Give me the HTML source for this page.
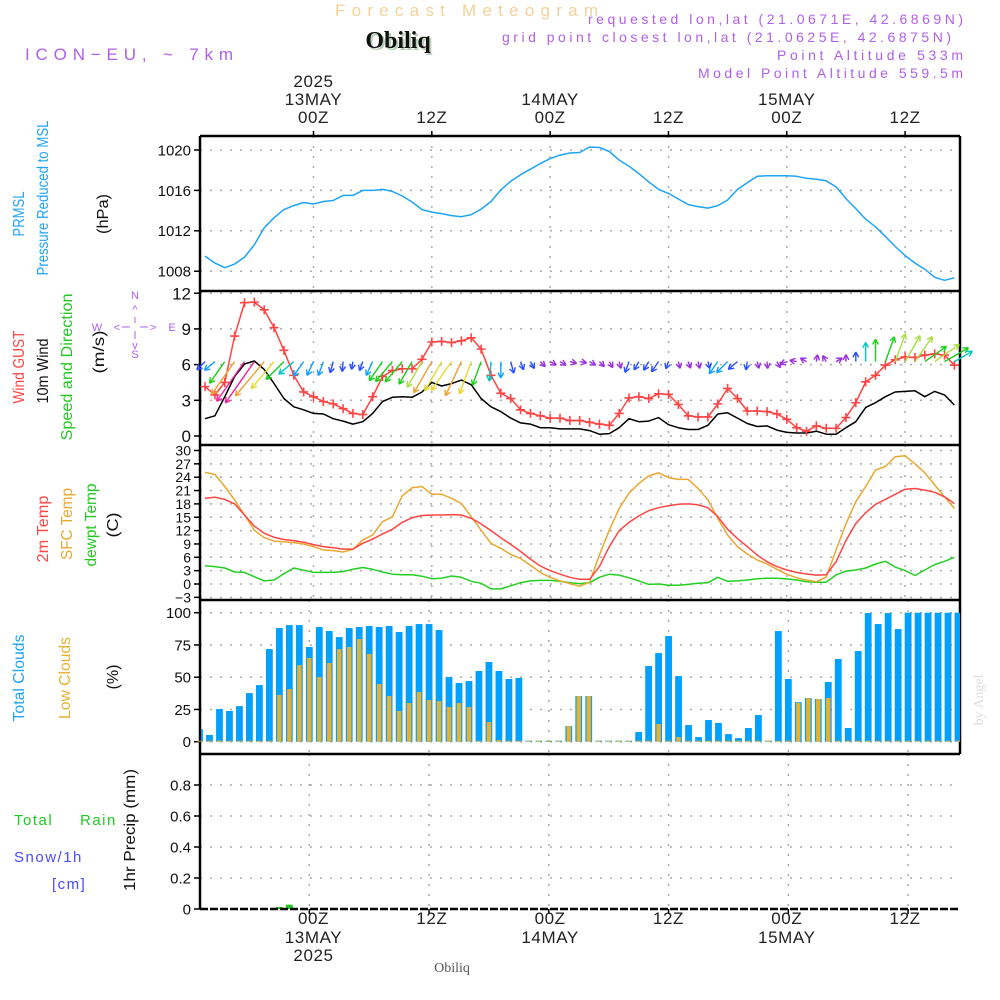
<!DOCTYPE html>
<html><head><meta charset="utf-8">
<style>
html,body{margin:0;padding:0;background:#fff;}
svg{display:block;font-family:"Liberation Sans",sans-serif;}
</style></head>
<body>
<svg id="chart" width="1000" height="1000" viewBox="0 0 1000 1000" xmlns="http://www.w3.org/2000/svg">
<!-- header -->
<text x="335" y="16" font-size="17" fill="#f2d29a" textLength="263" lengthAdjust="spacing">Forecast Meteogram</text>
<text x="400" y="50" font-size="24" font-weight="bold" fill="#b8ccb8" text-anchor="middle" font-family="Liberation Serif,serif">Obiliq</text>
<text x="398" y="48" font-size="24" font-weight="bold" fill="#111" text-anchor="middle" font-family="Liberation Serif,serif">Obiliq</text>
<text x="25" y="60" font-size="17" fill="#b060e8" textLength="208" lengthAdjust="spacing">ICON−EU, ~ 7km</text>
<g font-size="14" fill="#b060e8">
<text x="588" y="24" textLength="375" lengthAdjust="spacing">requested lon,lat (21.0671E, 42.6869N)</text>
<text x="502" y="42" textLength="449" lengthAdjust="spacing">grid point closest lon,lat (21.0625E, 42.6875N)</text>
<text x="777" y="60" textLength="186" lengthAdjust="spacing">Point Altitude 533m</text>
<text x="698" y="78" textLength="265" lengthAdjust="spacing">Model Point Altitude 559.5m</text>
</g>
<text transform="translate(983,700) rotate(-90)" font-size="14" fill="#ddd" text-anchor="middle" font-family="Liberation Serif,serif">by Angel</text>
<g id="layer"></g>
</svg>
<script>
// ---- data (hours from 00Z 13 May, -11 .. 65) ----
const hourStart = -11;
const pressure = [1009.5,1008.8,1008.35,1008.7,1009.4,1010.6,1012.3,1013.3,1014.1,1014.5,1014.8,1014.65,1014.9,1015.0,1015.5,1015.5,1016.0,1016.0,1016.1,1015.9,1015.45,1014.85,1014.1,1013.85,1013.7,1013.5,1013.4,1013.6,1014.15,1014.9,1016.05,1016.9,1017.55,1018.1,1018.65,1019.15,1019.5,1019.7,1019.75,1020.3,1020.25,1019.85,1019.0,1018.4,1017.65,1016.85,1016.1,1015.7,1015.15,1014.6,1014.4,1014.25,1014.5,1015.05,1016.1,1016.75,1017.4,1017.45,1017.45,1017.45,1017.4,1017.2,1017.1,1016.95,1016.35,1015.2,1014.2,1013.15,1012.4,1011.45,1010.45,1009.55,1008.8,1008.2,1007.4,1007.1,1007.35];
const gust = [4.15,3.45,4.5,8.4,11.2,11.25,10.6,9.1,7.2,5.1,3.7,3.3,2.9,2.7,2.3,1.9,1.8,3.3,5.0,5.5,5.65,5.65,6.45,7.9,7.95,7.85,8.0,8.25,7.3,5.1,3.6,3.15,2.2,1.9,1.7,1.5,1.5,1.3,1.3,1.15,1.0,0.9,1.9,3.2,3.3,3.15,3.55,3.5,2.65,1.7,1.6,1.6,2.7,4.0,3.15,2.1,2.1,2.05,1.85,1.4,0.7,0.4,0.85,0.65,0.65,1.55,2.8,4.55,5.1,5.95,6.4,6.65,6.6,6.8,6.9,6.8,5.95];
const wind = [1.45,1.7,3.3,5.0,6.05,6.3,5.6,4.4,3.15,2.45,2.2,1.9,1.85,1.45,1.25,1.0,1.2,1.9,2.9,3.25,3.3,3.25,3.7,4.5,4.2,4.4,4.7,4.3,3.15,2.45,2.05,1.5,1.1,1.0,0.7,0.7,0.6,0.6,0.6,0.45,0.15,0.2,0.7,1.45,1.2,1.25,1.55,0.95,0.7,0.55,0.55,0.9,1.85,1.95,1.5,1.05,0.8,0.85,0.5,0.3,0.25,0.25,0.4,0.15,0.15,0.7,1.2,2.4,2.8,3.3,3.7,3.75,3.8,3.3,3.75,3.45,2.6];
const windDir = [225,230,215,215,215,215,220,220,225,230,215,205,200,195,185,190,200,205,215,220,220,210,210,210,210,215,205,200,200,185,180,165,160,150,135,120,120,105,100,120,135,150,165,200,210,210,215,200,165,160,165,165,215,225,230,190,165,175,150,250,280,300,10,330,60,0,0,0,0,20,20,30,35,55,55,60,60];
const temp2m = [19.25,19.5,19.0,18.0,15.5,13.0,11.4,10.5,10.0,9.75,9.4,8.85,8.4,8.15,7.85,7.85,9.15,10.1,11.25,12.3,13.85,14.9,15.4,15.5,15.5,15.6,15.5,14.75,13.5,12.0,10.4,8.9,7.3,5.6,4.05,3.0,2.2,1.5,1.05,1.05,3.9,8.4,12.0,13.85,15.3,16.5,17.15,17.6,17.9,18.0,17.8,17.15,15.15,12.3,10.2,8.4,6.5,5.0,3.9,3.15,2.6,2.25,2.0,2.1,5.0,9.75,13.6,16.0,17.9,19.0,20.15,21.3,21.45,21.1,20.6,19.6,18.1];
const tempSfc = [25.1,24.6,21.9,18.9,15.5,12.1,10.4,9.65,9.5,9.3,9.0,8.4,7.65,7.5,7.2,7.8,9.9,11.0,14.0,15.1,19.8,21.65,21.9,20.15,20.15,19.25,18.1,15.1,12.1,9.15,8.0,6.65,5.7,4.25,2.6,1.5,0.7,0.1,-0.5,0.4,6.5,12.1,17.0,20.4,22.6,24.3,25.0,23.9,23.5,23.5,21.5,18.9,14.75,11.0,8.4,6.75,5.4,4.5,3.3,2.2,1.4,0.9,0.5,1.6,7.65,13.5,18.5,21.9,25.6,26.4,28.6,28.8,27.0,25.0,22.25,19.6,17.0];
const dewpt = [4.1,3.9,3.6,2.7,2.6,1.65,0.7,0.9,2.3,3.6,3.1,2.6,2.6,2.6,2.8,3.3,3.7,3.3,2.7,2.2,2.1,2.1,1.75,1.2,1.3,1.8,1.5,0.6,0.15,-1.1,-1.1,-0.4,0.3,0.7,0.8,0.8,0.6,0.3,0.1,0.3,1.5,2.2,2.0,1.4,0.7,-0.1,0.0,-0.3,-0.3,-0.1,0.15,0.3,1.5,0.6,0.7,0.9,1.2,1.3,1.3,1.15,0.9,0.5,0.4,0.4,2.05,2.9,3.15,3.6,4.5,5.1,3.8,3.0,1.9,3.15,4.35,5.1,6.0];
const totalCloud = [9.8,5.2,25.3,23.8,27.6,37.7,43.9,71.8,88.1,90.4,90.4,73.4,88.9,85.8,81.1,88.1,88.9,89.7,88.9,89.7,85.0,89.7,91.2,91.2,86.6,50.1,45.5,47.0,54.8,61.8,54.8,48.6,49.4,0,0,0,0,12.1,35.4,35.4,0,0,0,0,7.5,58.7,68.7,81.9,50.9,12.9,3.6,16.8,14.5,5.9,2.8,10.6,20.7,0,85.8,48.6,30.7,33.9,33.1,46.3,64.1,10.6,70.3,99.7,91.2,99.7,87.3,100,100,100,100,100,100];
const lowCloud = [0,0,1,0,0,0,0,0.5,36.2,40.8,59.4,64.9,50.1,61.0,71.8,73.4,79.6,68.0,44.7,35.4,23.8,30.0,38.5,32.3,31.5,26.9,30.0,26.9,0,15.2,1.3,0,0,0,0,0,0,12.1,35.4,35.4,0,0,0,0,0,0,13.7,0,3.6,0,0,0,0,0,0,0,0,0,0,0,30.2,33.9,33.1,33.9,0,0,0,0,0,0,0,0,0,0,0,0,0];
const precip = [0,0,0,0,0,0,0,0,0.008,0.028,0,0,0,0,0,0,0,0,0,0,0,0,0,0,0,0,0,0,0,0,0,0,0,0,0,0,0,0,0,0,0,0,0,0,0,0,0,0,0,0,0,0,0,0,0,0,0,0,0,0,0,0,0,0,0,0,0,0,0,0,0,0,0,0,0,0,0];
const pressTicks = [1008,1012,1016,1020];
const windTicks = [0,3,6,9,12];
const tempTicks = [-3,0,3,6,9,12,15,18,21,24,27,30];
const cloudTicks = [0,25,50,75,100];
const precipTicks = [0,0.2,0.4,0.6,0.8];
const timeTicks = [0,12,24,36,48,60];
const topLabels = [["2025","13MAY","00Z"],["","","12Z"],["","14MAY","00Z"],["","","12Z"],["","15MAY","00Z"],["","","12Z"]];
const bottomLabels = [["00Z","13MAY","2025"],["12Z","",""],["00Z","14MAY",""],["12Z","",""],["00Z","15MAY",""],["12Z","",""]];

// ---- axes ----
const L = 200, R = 960;
const xMain = t => 313.5 + 9.86 * t;
const xBar = t => 309.3 + 9.98 * t;
const yPress = v => 150 + (1020 - v) * 10.1;
const yWind = v => 436 - v * 11.9;
const yTemp = v => 584 - v * 4.45;
const yCloud = v => 741.7 - v * 1.29;
const yPrecip = v => 909 - v * 155;

const NS = 'http://www.w3.org/2000/svg';
const layer = document.getElementById('layer');
function mk(tag, attrs, parent) {
  const e = document.createElementNS(NS, tag);
  for (const k in attrs) e.setAttribute(k, attrs[k]);
  (parent || layer).appendChild(e);
  return e;
}
function txt(s, x, y, attrs, parent) {
  const e = mk('text', Object.assign({x: x, y: y}, attrs), parent);
  e.textContent = s;
  return e;
}
const hours = pressure.map((_, i) => hourStart + i);

function panel(name, top, bottom, ticks, yf, xf, fmt, fs, border) {
  const g = mk('g', {});
  
  
  ticks.forEach(v => {
    const y = yf(v);
    if (y > top + 2 && y < bottom - 2) {
      const gl = mk('line', {x1: L, x2: R, y1: y, y2: y, stroke: '#aaa', 'stroke-width': 1.5, 'stroke-dasharray': '2 8'}, g);
      
      
    }
    mk('line', {x1: L - 6, x2: L, y1: y, y2: y, stroke: '#000', 'stroke-width': 1.5}, g);
    const t = txt(fmt(v), L - 9, y + fs * 0.36, {'font-size': fs, 'text-anchor': 'end', fill: '#111'}, g);
    
    
  });
  timeTicks.forEach(h => {
    const x = xf(h);
    const vl = mk('line', {x1: x, x2: x, y1: top, y2: bottom, stroke: '#aaa', 'stroke-width': 1.5, 'stroke-dasharray': '2 8'}, g);
    
    
  });
  mk('line', {x1: L, x2: L, y1: top, y2: bottom, stroke: '#000', 'stroke-width': 2.5}, g);
  if (border) mk('line', {x1: R, x2: R, y1: top, y2: bottom, stroke: '#000', 'stroke-width': 2.5}, g);
  return g;
}
function polyline(name, arr, xf, yf, color, parent) {
  const pts = arr.map((v, i) => xf(hours[i]).toFixed(1) + ',' + yf(v).toFixed(1)).join(' ');
  const p = mk('polyline', {points: pts, fill: 'none', stroke: color, 'stroke-width': 1.5, 'stroke-linejoin': 'round'}, parent);
  
  
  return p;
}

// panels
const gP = panel('pressure', 136, 291, pressTicks, yPress, xMain, v => String(v), 15, true);
const gW = panel('wind', 291, 445, windTicks, yWind, xMain, v => String(v), 17, true);
const gT = panel('temperature', 445, 600, tempTicks, yTemp, xMain, v => String(v).replace('-', '−'), 14, true);
const gC = panel('clouds', 600, 754, cloudTicks, yCloud, xBar, v => String(v), 15, true);
const gR = panel('precip', 754, 909, precipTicks, yPrecip, xBar, v => v === 0 ? '0' : v.toFixed(1), 15, false);

// panel separators
[136, 291, 445, 600, 754].forEach(y => {
  const s = mk('line', {x1: L, x2: R, y1: y, y2: y, stroke: '#000', 'stroke-width': 2.5});
  
  
});
const ba = mk('line', {x1: L, x2: R, y1: 909, y2: 909, stroke: '#000', 'stroke-width': 2.5, 'stroke-dasharray': '8 2'});



// time labels
timeTicks.forEach((h, i) => {
  const x = xMain(h);
  mk('line', {x1: x, x2: x, y1: 131, y2: 136, stroke: '#000', 'stroke-width': 1.5});
  const lines = topLabels[i];
  [87, 105, 123].forEach((y, k) => {
    if (lines[k]) {
      const t = txt(lines[k], x, y, {'font-size': 17, 'text-anchor': 'middle', fill: '#222', 'letter-spacing': 0.6});
      
      
    }
  });
  const xb = xBar(h);
  mk('line', {x1: xb, x2: xb, y1: 909, y2: 914, stroke: '#000', 'stroke-width': 1.5});
  const bl = bottomLabels[i];
  [924, 943, 961].forEach((y, k) => {
    if (bl[k]) {
      const t = txt(bl[k], xMain(h), y, {'font-size': 17, 'text-anchor': 'middle', fill: '#222', 'letter-spacing': 0.6});
      
      
    }
  });
});
const fl = txt('Obiliq', 452, 972, {'font-size': 14, 'text-anchor': 'middle', fill: '#555', 'font-family': 'Liberation Serif,serif'});



// pressure
polyline('pressure-line', pressure, xMain, yPress, '#1ea4f4', gP);

// wind arrows
function speedColor(s) {
  if (s < 0.9) return '#9a30e0';
  if (s < 1.6) return '#2a50ff';
  if (s < 2.3) return '#10a0ff';
  if (s < 2.7) return '#00c8c0';
  if (s < 3.5) return '#18d018';
  if (s < 4.0) return '#a8e040';
  if (s < 4.45) return '#e8d830';
  if (s < 5.8) return '#f0a030';
  return '#f0209a';
}
const gA = mk('g', {});


windDir.forEach((d, i) => {
  const s = wind[i];
  const len = Math.max(7, s * 8);
  const th = d * Math.PI / 180;
  const x0 = xMain(hours[i]), y0 = yWind(6) - 3;
  const x1 = x0 + Math.sin(th) * len, y1 = y0 - Math.cos(th) * len;
  const c = speedColor(s);
  const a = mk('g', {stroke: c, 'stroke-width': 1.4, fill: 'none'}, gA);
  
  
  mk('line', {x1: x0, y1: y0, x2: x1, y2: y1}, a);
  [-0.5, 0.5].forEach(o => {
    const b = th + Math.PI + o;
    mk('line', {x1: x1, y1: y1, x2: x1 + Math.sin(b) * 6, y2: y1 - Math.cos(b) * 6}, a);
  });
});

// wind lines
polyline('wind-speed-line', wind, xMain, yWind, '#000', gW);
polyline('wind-gust-line', gust, xMain, yWind, '#ff4444', gW);
gust.forEach((v, i) => {
  const x = xMain(hours[i]), y = yWind(v);
  const m = mk('path', {d: `M${x - 4.5},${y}H${x + 4.5}M${x},${y - 4.5}V${y + 4.5}`, stroke: '#ff4444', 'stroke-width': 1.6}, gW);
  
  
});

// temperature
polyline('dewpoint-line', dewpt, xMain, yTemp, '#22d022', gT);
polyline('sfc-temp-line', tempSfc, xMain, yTemp, '#e8a830', gT);
polyline('temp-2m-line', temp2m, xMain, yTemp, '#ff4444', gT);

// clouds
totalCloud.forEach((v, i) => {
  const xc = xBar(hours[i]);
  const x0 = Math.max(L + 1, xc - 3.4), x1 = Math.min(R, xc + 3.4);
  const y = yCloud(v);
  const b = mk('rect', {x: x0, y: Math.min(y, yCloud(0) - 1), width: Math.max(0, x1 - x0), height: Math.max(1, yCloud(0) - y), fill: '#00a0ff'}, gC);
  
  
});
lowCloud.forEach((v, i) => {
  const xc = xBar(hours[i]);
  const y = yCloud(v);
  const b = mk('rect', {x: xc - 2.2, y: Math.min(y, yCloud(0) - 1), width: 4.4, height: Math.max(1, yCloud(0) - y), fill: '#e8b030'}, gC);
  
  
});

// precip
precip.forEach((v, i) => {
  if (v <= 0) return;
  const xc = xBar(hours[i]);
  const y = yPrecip(v);
  const b = mk('rect', {x: xc - 3.4, y: Math.min(y, 907), width: 6.8, height: Math.max(2, 909 - y), fill: '#22c822'}, gR);
  
  
});

// rotated axis titles
function vlabel(name, s, x, y, color, fs, len) {
  const a = {transform: `translate(${x},${y}) rotate(-90)`, 'font-size': fs, fill: color, 'text-anchor': 'middle'};
  if (len) { a.textLength = len; a.lengthAdjust = 'spacingAndGlyphs'; }
  const t = txt(s, 0, 0, a);
  
  
}
vlabel('prmsl-label', 'PRMSL', 24, 214, '#1ea4f4', 16, 45);
vlabel('pressure-title', 'Pressure Reduced to MSL', 48, 198, '#1ea4f4', 16, 155);
vlabel('pressure-unit', '(hPa)', 108, 214, '#111', 16, 40);
vlabel('wind-gust-title', 'Wind GUST', 24, 367, '#ff4444', 16, 73);
vlabel('wind-10m-title', '10m Wind', 48, 371, '#111', 16, 65);
vlabel('wind-speed-dir-title', 'Speed and Direction', 72, 367, '#22c822', 16, 147);
vlabel('wind-unit', '(m/s)', 104, 352, '#111', 16, 43);
vlabel('temp-2m-title', '2m Temp', 48, 529, '#ff4444', 16, 67);
vlabel('sfc-temp-title', 'SFC Temp', 72, 524, '#e8a830', 16, 72);
vlabel('dewpt-title', 'dewpt Temp', 96, 525, '#22c822', 16, 83);
vlabel('temp-unit', '(C)', 118, 525, '#111', 16, 25);
vlabel('total-clouds-title', 'Total Clouds', 24, 678, '#1ea4f4', 16, 87);
vlabel('low-clouds-title', 'Low Clouds', 70, 678, '#e8b030', 16, 82);
vlabel('cloud-unit', '(%)', 118, 677, '#111', 16, 25);
vlabel('precip-title', '1hr Precip (mm)', 135, 830, '#111', 16, 122);

const compass = mk('g', {fill: '#b060e8', 'font-size': 11, 'text-anchor': 'middle'});


txt('N', 135, 299, {}, compass);
txt('S', 135, 358, {}, compass);
txt('W', 97, 331, {}, compass);
txt('E', 172, 331, {}, compass);
txt('<', 117, 331, {}, compass);
txt('>', 153, 331, {}, compass);
txt('^', 135, 313, {}, compass);
txt('v', 135, 349, {}, compass);
mk('path', {d: 'M122,327H130M140,327H148M135,317V323M135,331V339', stroke: '#b060e8', 'stroke-width': 1}, compass);

const pl = mk('g', {'font-size': 15, 'letter-spacing': 1.5});


txt('Total', 14, 825, {fill: '#22c822'}, pl);
txt('Rain', 80, 825, {fill: '#22c822'}, pl);
txt('Snow/1h', 14, 862, {fill: '#4a4aff'}, pl);
txt('[cm]', 52, 889, {fill: '#4a4aff'}, pl);
</script>
</body></html>
